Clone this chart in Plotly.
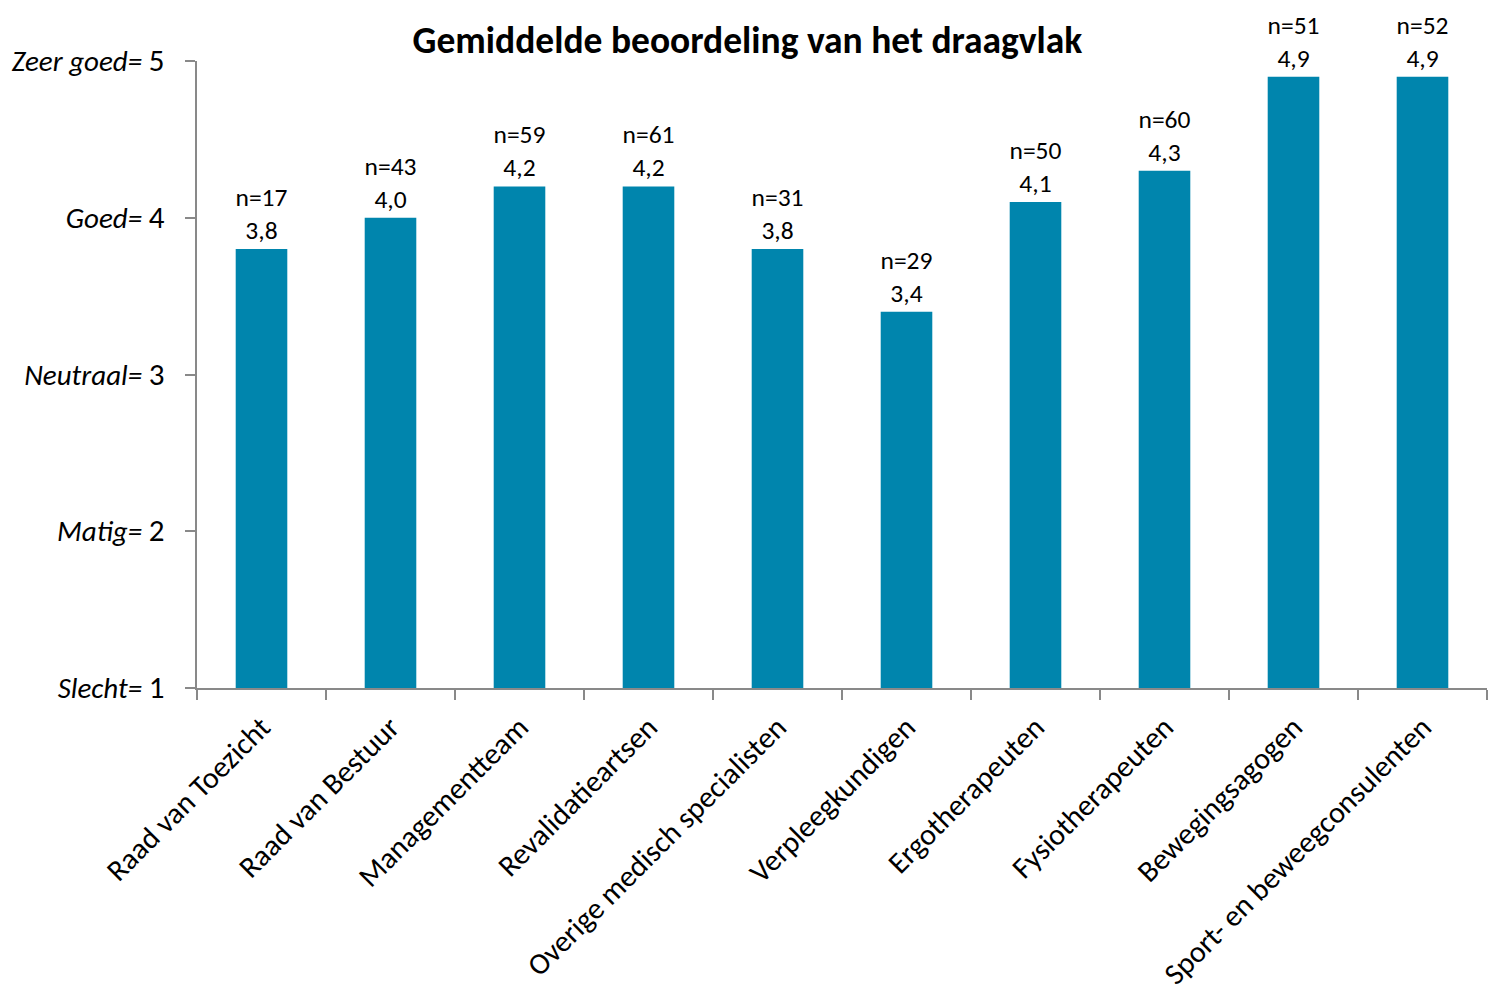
import plotly.graph_objects as go

categories = ["Raad van Toezicht", "Raad van Bestuur", "Managementteam", "Revalidatieartsen",
              "Overige medisch specialisten", "Verpleegkundigen", "Ergotherapeuten",
              "Fysiotherapeuten", "Bewegingsagogen", "Sport- en beweegconsulenten"]
scores = [3.8, 4.0, 4.2, 4.2, 3.8, 3.4, 4.1, 4.3, 4.9, 4.9]
counts = [17, 43, 59, 61, 31, 29, 50, 60, 51, 52]
y_tick_vals = [1, 2, 3, 4, 5]
y_tick_names = ["Slecht=", "Matig=", "Neutraal=", "Goed=", "Zeer goed="]

FONT = "Carlito, Lato, sans-serif"

labels = [f"n={n}<br>{v:.1f}".replace('.', ',') for n, v in zip(counts, scores)]
ticktext = [f"<i>{name}</i> <span style='font-size:31px'>{v}</span>" for name, v in zip(y_tick_names, y_tick_vals)]

fig = go.Figure(go.Bar(
    x=categories, y=scores, text=labels, textposition="outside",
    textfont=dict(family=FONT, size=25.5, color="black"),
    marker=dict(color="#0085AD", line=dict(width=0)),
    constraintext="none", cliponaxis=False, width=0.4,
))

fig.update_layout(
    width=1503, height=989,
    paper_bgcolor="white", plot_bgcolor="white",
    margin=dict(l=189, r=24, t=53, b=309, autoexpand=False),
    font=dict(family=FONT, color="black"),
    title=dict(text="<b>Gemiddelde beoordeling van het draagvlak</b>",
               x=0.492, xanchor="center", y=0.968, yanchor="middle",
               xref="container", yref="container",
               font=dict(family=FONT, size=37.5, color="black")),
    showlegend=False,
)
fig.update_xaxes(
    showline=True, linecolor="#898989", linewidth=1.5,
    ticks="outside", tickson="boundaries", ticklen=10, tickcolor="#898989", tickwidth=1.5,
    tickangle=-45, tickfont=dict(family=FONT, size=30, color="black"),
    ticklabelstandoff=8, showgrid=False, automargin=False,
)
fig.update_yaxes(
    range=[1, 5], showline=True, linecolor="#898989", linewidth=1.5,
    ticks="outside", ticklen=10, tickcolor="#898989", tickwidth=1.5,
    tickvals=y_tick_vals, ticktext=ticktext, ticklabelstandoff=15,
    tickfont=dict(family=FONT, size=29, color="black"),
    showgrid=False, zeroline=False, automargin=False,
)

fig.write_html("out.html")
